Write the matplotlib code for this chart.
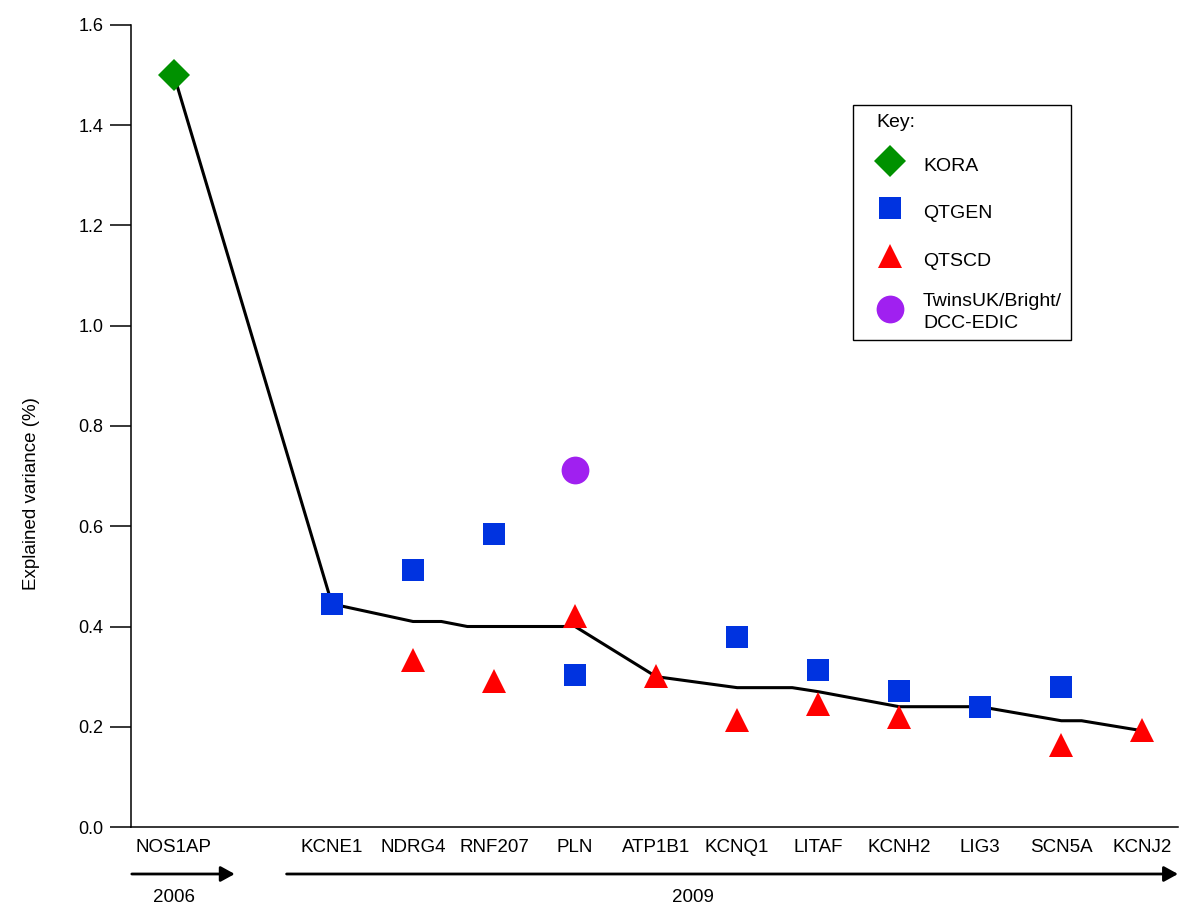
import matplotlib
matplotlib.use('Agg')
import matplotlib.pyplot as plt

plt.rcParams['font.family'] = ['Liberation Sans', 'DejaVu Sans']

# gene order along the x axis and their positions
genes = ['NOS1AP', 'KCNE1', 'NDRG4', 'RNF207', 'PLN', 'ATP1B1',
         'KCNQ1', 'LITAF', 'KCNH2', 'LIG3', 'SCN5A', 'KCNJ2']
gene_pos = [0.05, 2, 3, 4, 5, 6, 7, 8, 9, 10, 11, 12]

# explained variance (%) per study
kora_genes = ['NOS1AP']
kora_vals = [1.50]

qtgen_genes = ['KCNE1', 'NDRG4', 'RNF207', 'PLN', 'KCNQ1', 'LITAF', 'KCNH2', 'LIG3', 'SCN5A']
qtgen_vals = [0.445, 0.513, 0.584, 0.304, 0.380, 0.314, 0.271, 0.240, 0.279]

qtscd_genes = ['NDRG4', 'RNF207', 'PLN', 'ATP1B1', 'KCNQ1', 'LITAF', 'KCNH2', 'SCN5A', 'KCNJ2']
qtscd_vals = [0.333, 0.291, 0.420, 0.302, 0.214, 0.246, 0.219, 0.164, 0.194]

twins_genes = ['PLN']
twins_vals = [0.713]

# black trend line
trend_x = [0.05, 2, 3, 3.35, 3.67, 5, 6, 7, 7.68, 8, 9, 10, 11, 11.25, 12]
trend_y = [1.50, 0.445, 0.41, 0.41, 0.40, 0.40, 0.30, 0.278, 0.278, 0.27, 0.24, 0.24, 0.212, 0.212, 0.192]

pos = dict(zip(genes, gene_pos))

fig = plt.figure(figsize=(12, 9.21), dpi=100)
ax = fig.add_axes([131/1200, 1 - 827/921, (1178 - 131)/1200, (827 - 25)/921])

ax.plot(trend_x, trend_y, color='black', lw=2.2, zorder=2)

h_kora, = ax.plot([pos[g] for g in kora_genes], kora_vals, 'D', color='#009100',
                  ms=15.8, mew=0, ls='none', zorder=3, label='KORA')
h_qtgen, = ax.plot([pos[g] for g in qtgen_genes], qtgen_vals, 's', color='#0033e0',
                   ms=16, mew=0, ls='none', zorder=3, label='QTGEN')
h_qtscd, = ax.plot([pos[g] for g in qtscd_genes], qtscd_vals, '^', color='#ff0000',
                   ms=17.5, mew=0, ls='none', zorder=3, label='QTSCD')
h_twins, = ax.plot([pos[g] for g in twins_genes], twins_vals, 'o', color='#a020f0',
                   ms=20, mew=0, ls='none', zorder=3, label='TwinsUK/Bright/\nDCC-EDIC')

ax.set_xlim(-0.48, 12.44)
ax.set_ylim(0, 1.6)
ax.set_yticks([0.0, 0.2, 0.4, 0.6, 0.8, 1.0, 1.2, 1.4, 1.6])
ax.set_yticklabels(['%.1f' % v for v in ax.get_yticks()])
ax.set_xticks(gene_pos)
ax.set_xticklabels(genes)

for side in ['top', 'right']:
    ax.spines[side].set_visible(False)
for side in ['left', 'bottom']:
    ax.spines[side].set_linewidth(1.1)

ax.tick_params(axis='y', direction='out', length=15, width=1.1, pad=5, labelsize=13)
ax.tick_params(axis='x', length=0, pad=9, labelsize=13.5)

ax.set_ylabel('Explained variance (%)', fontsize=13.5)
ax.yaxis.set_label_coords(-0.087, 0.416)

# year arrows under the axis
arrow_style = dict(arrowstyle='-|>,head_length=0.4,head_width=0.22',
                   mutation_scale=21, lw=2, color='black', shrinkA=0, shrinkB=0)
ax.annotate('', xy=(0.80, -0.0586), xytext=(-0.47, -0.0586),
            xycoords=('data', 'axes fraction'), textcoords=('data', 'axes fraction'),
            arrowprops=arrow_style, annotation_clip=False)
ax.annotate('', xy=(12.44, -0.0586), xytext=(1.44, -0.0586),
            xycoords=('data', 'axes fraction'), textcoords=('data', 'axes fraction'),
            arrowprops=arrow_style, annotation_clip=False)
ax.text(0.05, -0.088, '2006', transform=ax.get_xaxis_transform(),
        ha='center', va='center', fontsize=13.5, clip_on=False)
ax.text(6.45, -0.088, '2009', transform=ax.get_xaxis_transform(),
        ha='center', va='center', fontsize=13.5, clip_on=False)

leg = ax.legend(handles=[h_kora, h_qtgen, h_qtscd, h_twins], title='Key:',
                loc='upper left', bbox_to_anchor=(853/1200, 1 - 105/921),
                bbox_transform=fig.transFigure, borderaxespad=0,
                fontsize=14, title_fontsize=14, alignment='left',
                frameon=True, fancybox=False, edgecolor='black', framealpha=1,
                borderpad=0.45, handlelength=2.9, handleheight=1.75,
                handletextpad=0.25, labelspacing=1.05)
leg.get_frame().set_linewidth(1.0)
leg.get_title().set_x(15)
leg.get_texts()[3].set_linespacing(1.35)

fig.savefig('out.png', dpi=100)
